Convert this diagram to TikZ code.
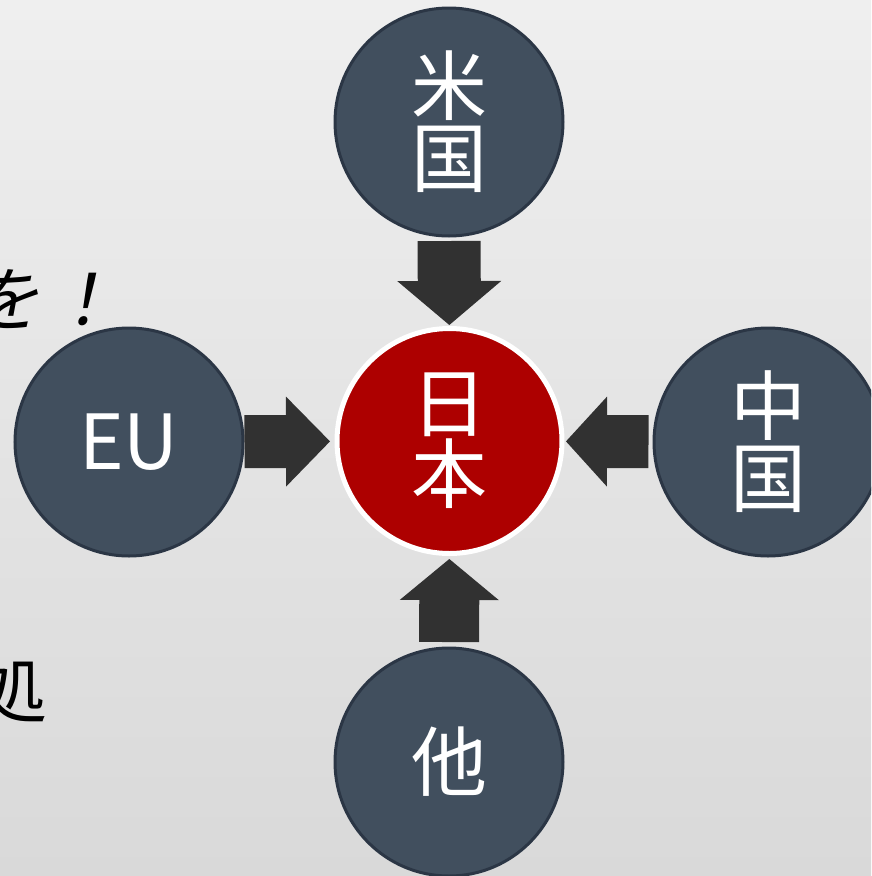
\documentclass[tikz,border=0pt]{standalone}
\usepackage{fontspec}
\newfontfamily\cjk{Noto Sans CJK JP}
\newfontfamily\cjkit[FakeSlant=0.2]{Noto Sans CJK JP}
\usetikzlibrary{arrows.meta}
\definecolor{bgtop}{HTML}{EFEFEF}
\definecolor{bgbot}{HTML}{D9D9D9}
\definecolor{cfill}{HTML}{414F5E}
\definecolor{cline}{HTML}{2B3645}
\definecolor{jpred}{HTML}{AD0000}
\definecolor{arrowc}{HTML}{313131}
\tikzset{
  country/.style={circle, minimum size=228pt, inner sep=0pt, fill=cfill, draw=cline, line width=3pt,
    text=white, align=center, font=\cjk\fontsize{76}{72}\selectfont},
  japan/.style={circle, minimum size=225pt, inner sep=0pt, fill=jpred, draw=white, line width=5pt,
    text=white, align=center, font=\cjk\fontsize{76}{71}\selectfont},
  bigarrow/.style n args={3}{draw=arrowc, line width=#1, line cap=butt,
    -{Triangle[length=#2 0 0, width=#3 0 0, line width=0pt]}},
  frag/.style={inner sep=0pt, text=black},
}
\begin{document}
\begin{tikzpicture}[x=1pt,y=-1pt]
\useasboundingbox (0,0) rectangle (871,876);
\clip (0,0) rectangle (871,876);
\shade[top color=bgtop, bottom color=bgbot] (0,0) rectangle (871,876);

\node[frag, anchor=base east, font=\cjkit\fontsize{70}{70}\selectfont] (t1) at (118,325) {を\hspace{7pt}！};
\node[frag, anchor=base east, font=\cjk\fontsize{72}{72}\selectfont] (t2) at (48,717) {処};

\node[country] (us) at (449,122) {米\\国};
\node[country] (eu) at (129,442) {EU};
\node[country] (zh) at (768,442) {中\\国};
\node[country] (ta) at (449,762) {他};
\node[japan] (jp) at (449.5,441) {日\\本};

\draw[bigarrow={63pt}{44pt}{104pt}, shorten <=3.5pt, shorten >=1pt] (us) -- (jp);
\draw[bigarrow={53pt}{44pt}{90pt}, shorten >=4.5pt] (eu) -- (jp);
\draw[bigarrow={53pt}{41pt}{90pt}, shorten <=4pt, shorten >=1.5pt] (zh) -- (jp);
\draw[bigarrow={60pt}{41pt}{99pt}, shorten <=4.5pt, shorten >=3pt] (ta) -- (jp);
\end{tikzpicture}
\end{document}
